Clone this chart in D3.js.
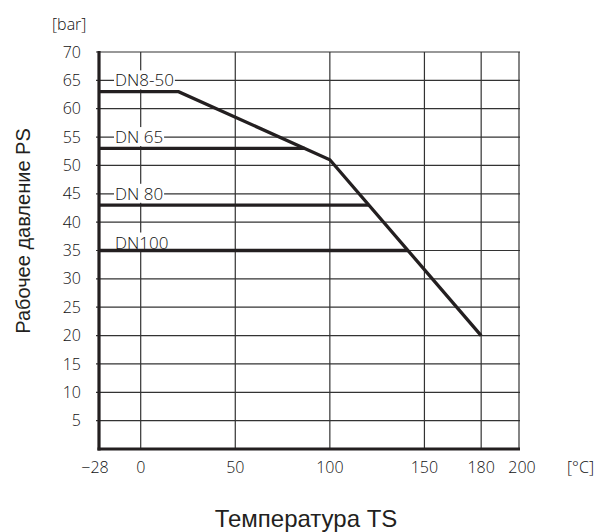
<!DOCTYPE html>
<html>
<head>
<meta charset="utf-8">
<script src="https://cdn.jsdelivr.net/npm/d3@7"></script>
<style>
  body { margin: 0; background: #fff; }
  svg { display: block; }
  .tick-label { font-family: "Open Sans", "DejaVu Sans", sans-serif; font-weight: 300; font-size: 16px; fill: #111; }
  .dn-label { font-family: "Open Sans", "DejaVu Sans", sans-serif; font-weight: 300; font-size: 17px; fill: #111; }
  .title { font-family: "Liberation Sans", Arial, sans-serif; fill: #231f20; }
</style>
</head>
<body>
<svg id="chart" width="598" height="532"></svg>
<script>
// ---- data ----
const xTicks = [-28, 0, 50, 100, 150, 180, 200];
const yTicks = [5, 10, 15, 20, 25, 30, 35, 40, 45, 50, 55, 60, 65, 70];
const curveTemps = [-28, 20, 100, 180];
const curvePressures = [63, 63, 51, 20];
const dnNames = ["DN8-50", "DN 65", "DN 80", "DN100"];
const dnLabelAt = [65, 55, 45, 35];
const dnPressures = [63, 53, 43, 35];
const dnEndTemps = [20, 86.7, 120.6, 141.3];
const xUnit = "[°C]";
const yUnit = "[bar]";
const xTitle = "Температура TS";
const yTitle = "Рабочее  давление PS";

// ---- layout ----
const svg = d3.select("#chart");
const x = d3.scaleLinear().domain([-28, 0, 200]).range([99, 140.7, 519]);
const y = d3.scaleLinear().domain([0, 70]).range([449, 52]);
const fmt = d3.format("d");

const grid = svg.append("g");
// horizontal grid
grid.selectAll("line.h").data(yTicks).join("line")
  .attr("x1", x(-28) - 3).attr("x2", x(200) + 1)
  .attr("y1", d => y(d)).attr("y2", d => y(d))
  .attr("stroke", "#333").attr("stroke-width", 1.2);
// vertical grid
grid.selectAll("line.v").data(xTicks.filter(d => d !== -28)).join("line")
  .attr("x1", d => x(d)).attr("x2", d => x(d))
  .attr("y1", y(70)).attr("y2", y(0))
  .attr("stroke", "#333").attr("stroke-width", 1.2);

// DN labels with white background
const lab = svg.append("g");
dnNames.forEach((name, i) => {
  const g = lab.append("g");
  const isLast = i === dnNames.length - 1;
  const t = g.append("text").attr("class", "dn-label")
    .attr("x", x(-28) + 16)
    .attr("y", isLast ? y(dnLabelAt[i]) - 2 : y(dnLabelAt[i]) + 6)
    .text(name);
  const b = t.node().getBBox();
  g.insert("rect", "text")
    .attr("x", b.x - 1).attr("y", b.y + 2)
    .attr("width", b.width + 2).attr("height", b.height - 4)
    .attr("fill", "#fff");
});

// pressure curve
const line = d3.line().x((d, i) => x(curveTemps[i])).y((d, i) => y(curvePressures[i]));
svg.append("path").datum(curveTemps)
  .attr("d", line)
  .attr("fill", "none").attr("stroke", "#231f20").attr("stroke-width", 3.3)
  .attr("stroke-linejoin", "miter");

// DN horizontal limits
svg.selectAll("line.dn").data(dnPressures.slice(1)).join("line")
  .attr("x1", x(-28)).attr("x2", (d, i) => x(dnEndTemps[i + 1]))
  .attr("y1", d => y(d)).attr("y2", d => y(d))
  .attr("stroke", "#231f20").attr("stroke-width", 3.3);

// axes lines
svg.append("line").attr("x1", x(-28)).attr("x2", x(-28)).attr("y1", y(70) - 1).attr("y2", y(0) + 1.5)
  .attr("stroke", "#231f20").attr("stroke-width", 3.2);
svg.append("line").attr("x1", x(-28) - 1.5).attr("x2", x(200) + 1).attr("y1", y(0)).attr("y2", y(0))
  .attr("stroke", "#231f20").attr("stroke-width", 3.2);

// tick labels
svg.selectAll("text.yt").data(yTicks).join("text")
  .attr("class", "tick-label")
  .attr("x", 81).attr("y", d => y(d)).attr("dy", "0.35em")
  .attr("text-anchor", "end").text(d => fmt(d));
svg.selectAll("text.xt").data(xTicks).join("text")
  .attr("class", "tick-label")
  .attr("x", d => d === -28 ? x(d) - 4 : (d === 200 ? x(d) + 3 : x(d)))
  .attr("y", 473)
  .attr("text-anchor", "middle").text(d => fmt(d));

svg.append("text").attr("class", "tick-label").attr("x", 52).attr("y", 30).text(yUnit);
svg.append("text").attr("class", "tick-label").attr("x", 567).attr("y", 473).text(xUnit);

// titles
svg.append("text").attr("class", "title").attr("font-size", 24)
  .attr("x", 306).attr("y", 527).attr("text-anchor", "middle").text(xTitle);
svg.append("text").attr("class", "title").attr("font-size", 20)
  .attr("transform", "translate(30,231) rotate(-90)")
  .attr("text-anchor", "middle").text(yTitle);
</script>
</body>
</html>
